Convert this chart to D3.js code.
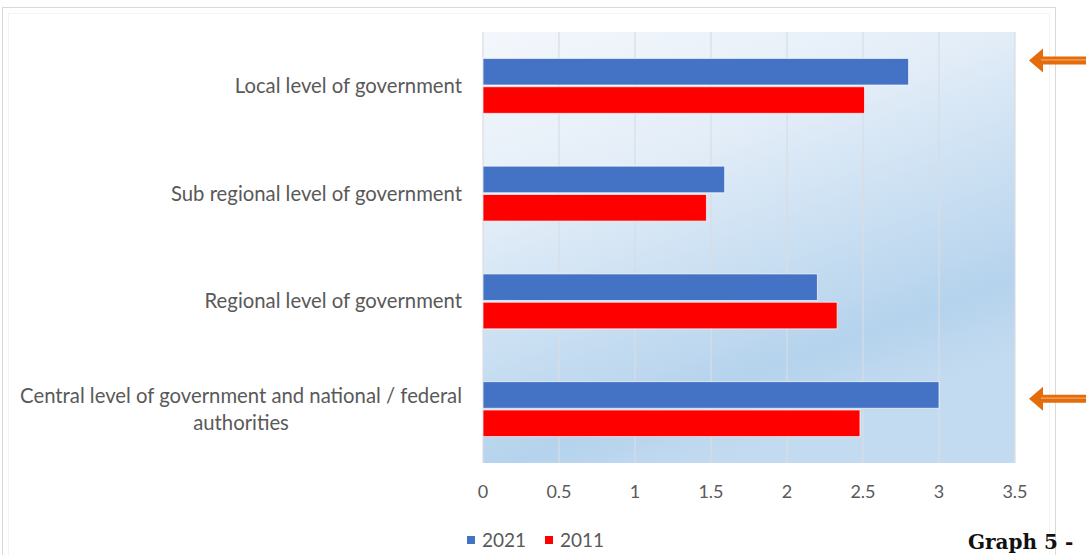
<!DOCTYPE html>
<html>
<head>
<meta charset="utf-8">
<script src="https://cdn.jsdelivr.net/npm/d3@7"></script>
<style>
  body { margin: 0; background: #fff; }
  svg { display: block; }
</style>
</head>
<body>
<div id="chart"></div>
<script>
// chart data
var categories = [
    ["Local level of government"],
    ["Sub regional level of government"],
    ["Regional level of government"],
    ["Central level of government and national / federal", "authorities"]
];
var series = ["2021", "2011"];
var values2021 = [2.8, 1.59, 2.2, 3.0];
var values2011 = [2.51, 1.47, 2.33, 2.48];
var xTicks = [0, 0.5, 1, 1.5, 2, 2.5, 3, 3.5];
var seriesColors = ["#4472c4", "#ff0000"];

var width = 1086, height = 555;
var plot = { left: 483, right: 1015, top: 32, bottom: 463 };

var svg = d3.select("#chart").append("svg")
    .attr("width", width)
    .attr("height", height);

// outer frame of the chart object
svg.append("rect")
    .attr("x", 2.5).attr("y", 7.5)
    .attr("width", 1053).attr("height", 600)
    .attr("fill", "none")
    .attr("stroke", "#d9d9d9");
svg.append("rect")
    .attr("x", 8.5).attr("y", 13.5)
    .attr("width", 1041).attr("height", 600)
    .attr("fill", "none")
    .attr("stroke", "#f3f3f3");

// gradient for plot area
var defs = svg.append("defs");
var grad = defs.append("linearGradient")
    .attr("id", "plotGrad")
    .attr("x1", "0").attr("y1", "0")
    .attr("x2", "0.45").attr("y2", "1");
grad.append("stop").attr("offset", "0").attr("stop-color", "#f4f7fc");
grad.append("stop").attr("offset", "0.35").attr("stop-color", "#e4eef8");
grad.append("stop").attr("offset", "0.85").attr("stop-color", "#b5d3ed");
grad.append("stop").attr("offset", "1").attr("stop-color", "#c3dbf0");

svg.append("rect")
    .attr("x", plot.left).attr("y", plot.top)
    .attr("width", plot.right - plot.left)
    .attr("height", plot.bottom - plot.top)
    .attr("fill", "url(#plotGrad)");

var x = d3.scaleLinear()
    .domain([0, 3.5])
    .range([plot.left, plot.right]);

var y = d3.scaleBand()
    .domain(d3.range(categories.length))
    .range([plot.top, plot.bottom])
    .paddingInner(0.49)
    .paddingOuter(0.245);

var ySub = d3.scaleBand()
    .domain(series)
    .range([0, y.bandwidth()])
    .paddingInner(0.06);

// gridlines
svg.append("g")
    .selectAll("line")
    .data(xTicks)
    .join("line")
    .attr("x1", d => x(d)).attr("x2", d => x(d))
    .attr("y1", plot.top).attr("y2", plot.bottom)
    .attr("stroke", "#d9dde2")
    .attr("stroke-width", 1.2);

// bars
var rows = categories.map(function (c, i) {
    return [
        { cat: i, s: "2021", v: values2021[i], color: seriesColors[0] },
        { cat: i, s: "2011", v: values2011[i], color: seriesColors[1] }
    ];
});

svg.append("g")
    .selectAll("g")
    .data(rows)
    .join("g")
    .attr("transform", (d, i) => "translate(0," + y(i) + ")")
    .selectAll("rect")
    .data(d => d)
    .join("rect")
    .attr("x", x(0))
    .attr("y", d => ySub(d.s))
    .attr("width", d => x(d.v) - x(0))
    .attr("height", ySub.bandwidth())
    .attr("fill", d => d.color)
    .attr("stroke", "#ffffff")
    .attr("stroke-opacity", 0.7)
    .attr("stroke-width", 1);

// category labels
var labelFont = "Lato, 'Open Sans', sans-serif";
var labels = svg.append("g");
categories.forEach(function (lines, i) {
    var cy = y(i) + y.bandwidth() / 2;
    var lh = 27;
    var g = labels.append("g");
    var texts = g.selectAll("text")
        .data(lines)
        .join("text")
        .attr("y", (d, j) => cy + (j - (lines.length - 1) / 2) * lh)
        .attr("dy", "0.35em")
        .attr("font-family", labelFont)
        .attr("font-size", "20.3px")
        .attr("fill", "#595959")
        .text(d => d);
    var maxW = d3.max(texts.nodes(), n => n.getComputedTextLength());
    texts.attr("text-anchor", "middle")
        .attr("x", 462 - maxW / 2);
});

// x axis tick labels
svg.append("g")
    .selectAll("text")
    .data(xTicks)
    .join("text")
    .attr("x", d => x(d))
    .attr("y", 492)
    .attr("dy", "0.35em")
    .attr("text-anchor", "middle")
    .attr("font-family", labelFont)
    .attr("font-size", "18px")
    .attr("fill", "#595959")
    .text(d => d);

// legend
var legend = svg.append("g").attr("transform", "translate(467,540)");
var legendX = [0, 78];
series.forEach(function (s, i) {
    var lg = legend.append("g").attr("transform", "translate(" + legendX[i] + ",0)");
    lg.append("rect")
        .attr("x", 0).attr("y", -4)
        .attr("width", 8).attr("height", 8)
        .attr("fill", seriesColors[i]);
    lg.append("text")
        .attr("x", 15).attr("y", 0)
        .attr("dy", "0.35em")
        .attr("font-family", labelFont)
        .attr("font-size", "19px")
        .attr("fill", "#595959")
        .text(s);
});

// orange arrows pointing at the highlighted categories
var arrowCats = [0, 3];
var arrowY = [y(0) + ySub("2021") + 2, y(3) + ySub("2021") + 17];
var arrows = svg.append("g");
arrowCats.forEach(function (c, i) {
    var ay = arrowY[i];
    var tip = 1029;
    arrows.append("path")
        .attr("d", "M" + tip + "," + ay +
            " L" + (tip + 14) + "," + (ay - 12) +
            " L" + (tip + 14) + "," + (ay - 4) +
            " L1090," + (ay - 4) +
            " L1090," + (ay + 4) +
            " L" + (tip + 14) + "," + (ay + 4) +
            " L" + (tip + 14) + "," + (ay + 12) + " Z")
        .attr("fill", "#e46c0a");
    arrows.append("line")
        .attr("x1", tip + 12).attr("x2", 1090)
        .attr("y1", ay - 0.5).attr("y2", ay - 0.5)
        .attr("stroke", "#f3a466")
        .attr("stroke-width", 1.2);
});

// caption at the bottom right edge
svg.append("text")
    .attr("x", 968).attr("y", 549)
    .attr("font-family", "'DejaVu Serif', serif")
    .attr("font-weight", "bold")
    .attr("font-size", "20px")
    .attr("fill", "#111")
    .text("Graph 5 -");
</script>
</body>
</html>
